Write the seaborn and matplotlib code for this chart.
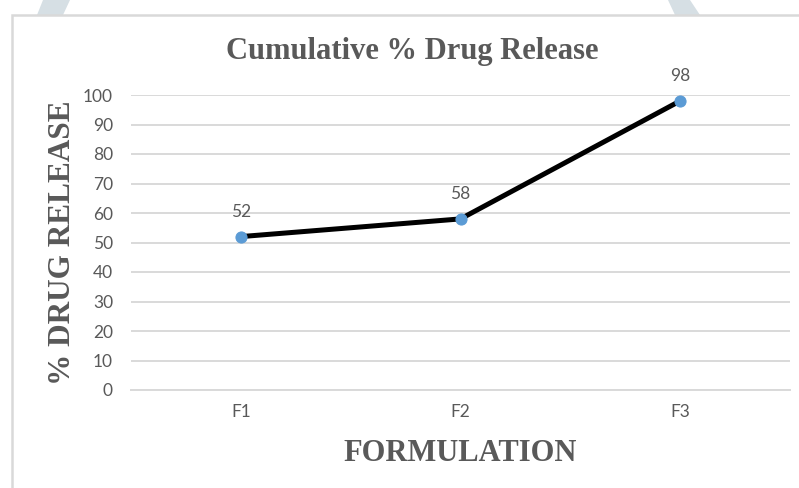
import matplotlib
matplotlib.use("Agg")
import matplotlib.pyplot as plt
from matplotlib.patches import Rectangle, Polygon
import seaborn as sns
import pandas as pd

formulations = ["F1", "F2", "F3"]
release = [52, 58, 98]
y_ticks = [0, 10, 20, 30, 40, 50, 60, 70, 80, 90, 100]

sns.set_theme(style="white")
plt.rcParams["font.family"] = ["Lato", "DejaVu Sans"]

W, H = 799, 488
fig = plt.figure(figsize=(W / 100, H / 100), dpi=100)
fig.patch.set_facecolor("white")

# faint watermark strokes behind the chart frame
wm = "#D6DFE4"
fig.patches.append(Polygon([(43 / W, 1), (70 / W, 1), (63 / W, 1 - 15 / H), (37 / W, 1 - 15 / H)],
                           closed=True, transform=fig.transFigure, facecolor=wm, edgecolor="none",
                           zorder=-2))
fig.patches.append(Polygon([(668 / W, 1), (690 / W, 1), (700 / W, 1 - 15 / H), (675 / W, 1 - 15 / H)],
                           closed=True, transform=fig.transFigure, facecolor=wm, edgecolor="none",
                           zorder=-2))
# chart frame
fig.patches.append(Rectangle((12 / W, -0.1), 1.2, 1 - 15 / H + 0.1, transform=fig.transFigure,
                             facecolor="white", edgecolor="#D9D9D9", linewidth=1.8, zorder=-1))

left, right, top, bottom = 131, 790, 95, 390
ax = fig.add_axes([left / W, 1 - bottom / H, (right - left) / W, (bottom - top) / H])
ax.set_facecolor("none")
ax.set_zorder(2)

df = pd.DataFrame({"Formulation": formulations, "Release": release})
sns.lineplot(data=df, x="Formulation", y="Release", ax=ax, color="black", linewidth=3.6,
             marker="o", markersize=8, markerfacecolor="#5B9BD5", markeredgecolor="#5B9BD5",
             zorder=3)

for i, v in enumerate(release):
    ax.annotate(str(v), (i, v), xytext=(0, 12), textcoords="offset points", ha="center",
                va="bottom", fontsize=12.5, color="#595959", annotation_clip=False)

ax.set_xlim(-0.5, len(formulations) - 0.5)
ax.set_ylim(0, 100)
ax.set_yticks(y_ticks)
ax.set_yticklabels([str(t) for t in y_ticks])
ax.grid(axis="y", color="#D9D9D9", linewidth=1.4)
ax.grid(axis="x", visible=False)
for s in ["left", "right", "top"]:
    ax.spines[s].set_visible(False)
ax.spines["bottom"].set_color("#D9D9D9")
ax.spines["bottom"].set_linewidth(1.4)
ax.tick_params(axis="y", length=0, pad=13, labelsize=12.5, labelcolor="#595959")
ax.tick_params(axis="x", length=0, pad=10, labelsize=12.5, labelcolor="#595959")

serif = ["Liberation Serif", "DejaVu Serif"]
ax.set_xlabel("FORMULATION", family=serif, fontweight="bold", fontsize=22, color="#595959",
              labelpad=14)
ax.set_ylabel("% DRUG RELEASE", family=serif, fontweight="bold", fontsize=22.5, color="#595959",
              labelpad=4)
fig.text(412 / W, 1 - 51 / H, "Cumulative % Drug Release", family=serif,
         fontweight="bold", fontsize=22, color="#595959", ha="center", va="center")

fig.savefig("out.png", dpi=100, facecolor="white")
